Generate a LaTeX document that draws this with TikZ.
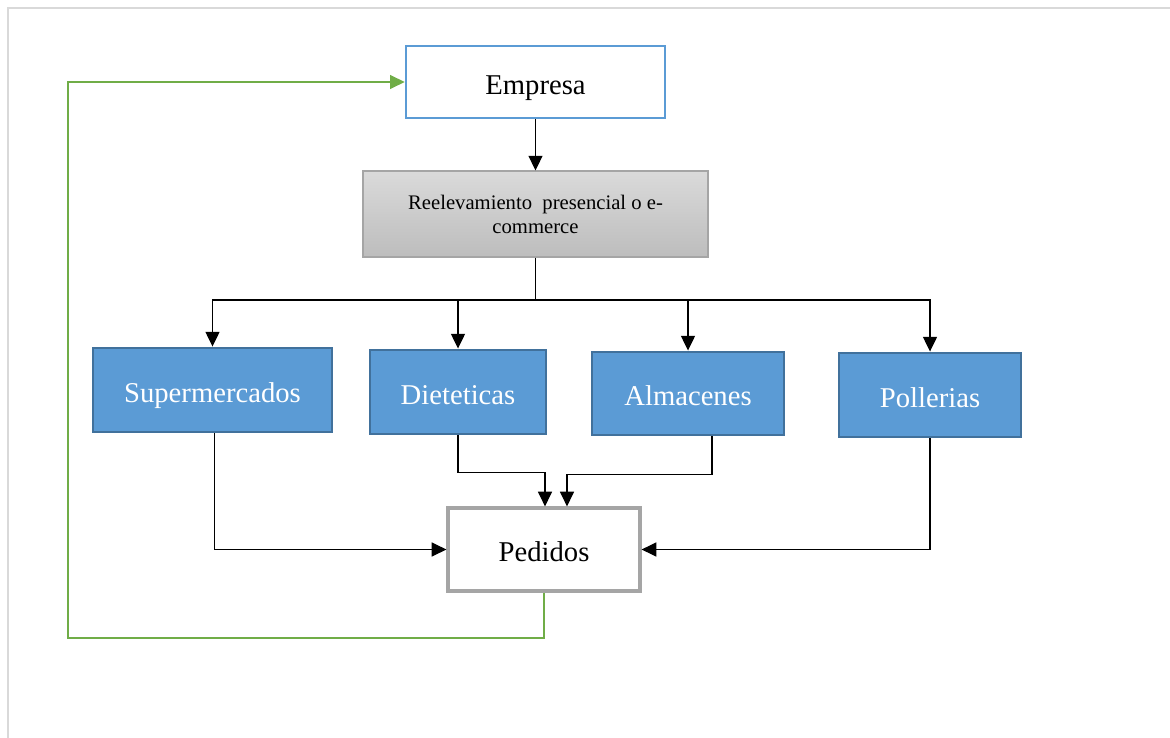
\documentclass[tikz,border=0pt]{standalone}
\usepackage{fontspec}
\setmainfont{Liberation Serif}
\usetikzlibrary{arrows.meta,calc}
\definecolor{bluefill}{HTML}{5B9BD5}
\definecolor{blueedge}{HTML}{41719C}
\definecolor{grayedge}{HTML}{A5A5A5}
\definecolor{gtop}{HTML}{DADADA}
\definecolor{gbot}{HTML}{BDBDBD}
\definecolor{greenline}{HTML}{70AD47}
\definecolor{framecol}{HTML}{D9D9D9}
\tikzset{
  bigtext/.style={font=\fontsize{21.5}{26}\selectfont, text height=18.5pt, text depth=0pt},
  bluebox/.style={draw=blueedge, fill=bluefill, line width=2.2pt, text=white, bigtext, inner sep=0pt},
  whitebox/.style={fill=white, bigtext, inner sep=0pt},
  conn/.style={draw=black, line width=0.9pt, -{Triangle[length=11pt,width=10.5pt]}},
  backconn/.style={draw=greenline, line width=0.9pt, -{Triangle[length=11pt,width=10.5pt]}},
}
\begin{document}
\begin{tikzpicture}[x=0.75pt,y=-0.75pt]
\useasboundingbox (0,0) rectangle (1170,738);
% page frame
\draw[framecol, line width=1.2pt] (8,738) -- (8,8) -- (1170,8);

\node[whitebox, draw=bluefill, line width=2pt, minimum width=194.25pt, minimum height=54pt] (emp) at (535.5,82) {Empresa};
\node[draw=grayedge, line width=0.8pt, top color=gtop, bottom color=gbot, minimum width=258.75pt, minimum height=64.5pt, align=center, font=\fontsize{15.5}{18}\selectfont, inner sep=0pt] (reel) at (535.5,214) {Reelevamiento\ \ presencial o e-\\commerce};

\node[bluebox, minimum width=179.25pt, minimum height=63pt] (sup) at (212.5,390) {Supermercados};
\node[bluebox, minimum width=132pt, minimum height=63pt] (diet) at (458,392) {Dieteticas};
\node[bluebox, minimum width=144pt, minimum height=62.25pt] (alm) at (688,393.5) {Almacenes};
\node[bluebox, minimum width=136.5pt, minimum height=63pt] (pol) at (930,395) {Pollerias};

\node[whitebox, draw=grayedge, line width=2.4pt, minimum width=144pt, minimum height=62.25pt] (ped) at (544,549.5) {Pedidos};

\coordinate (j) at (reel.south |- 0,300);
\coordinate (g) at (68,638);

\draw[conn] (emp.south) -- (reel.north);
\draw[line width=0.9pt] (reel.south) -- (j);
\draw[conn] (j) -| (sup.north);
\draw[conn] (j) -| (diet.north);
\draw[conn] (j) -| (alm.north);
\draw[conn] (j) -| (pol.north);

\draw[conn] ($(sup.south)+(2,0)$) |- (ped.west);
\draw[conn] (diet.south) -- ++(0,37) -| ($(ped.north)+(1,0)$);
\draw[conn] ($(alm.south)+(24,0)$) -- ++(0,38) -| ($(ped.north)+(23,0)$);
\draw[conn] (pol.south) |- (ped.east);

\draw[backconn] (ped.south) |- (g) |- (emp.west);
\end{tikzpicture}
\end{document}
